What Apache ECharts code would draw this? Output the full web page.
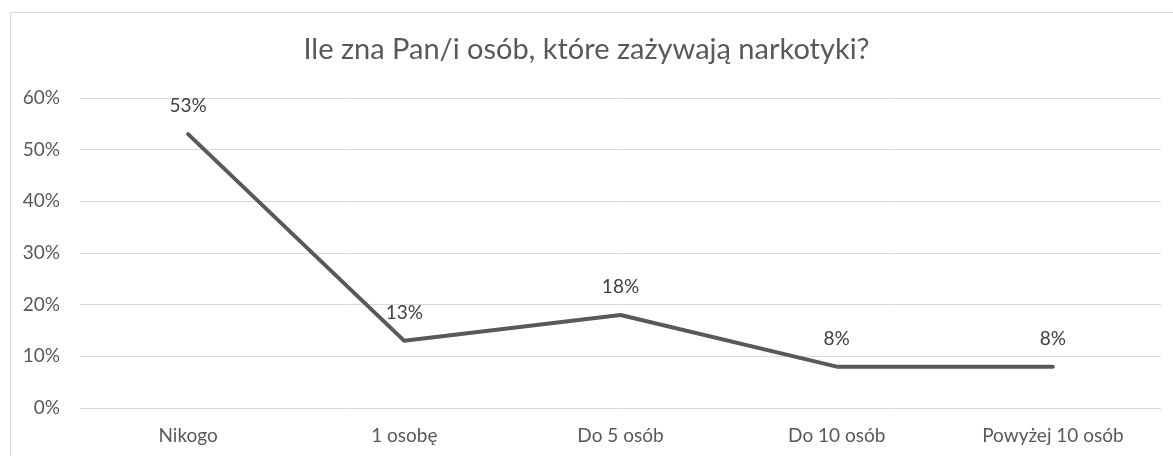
<!DOCTYPE html>
<html><head><meta charset="utf-8">
<script src="https://cdn.jsdelivr.net/npm/echarts@6/dist/echarts.min.js"></script>
<style>html,body{margin:0;padding:0;background:#fff}#c{width:1173px;height:456px}</style>
</head><body><div id="c"></div>
<script>
const categories = ['Nikogo', '1 osobę', 'Do 5 osób', 'Do 10 osób', 'Powyżej 10 osób'];
const values = [53, 13, 18, 8, 8];
const yTicks = [0, 10, 20, 30, 40, 50, 60];

const chart = echarts.init(document.getElementById('c'));
chart.setOption({
  animation: false,
  backgroundColor: '#fff',
  textStyle: { fontFamily: 'Lato, "Open Sans", sans-serif' },
  graphic: [{
    type: 'rect', left: 8, top: 10,
    shape: { width: 1180, height: 460 },
    style: { fill: 'none', stroke: '#d9d9d9', lineWidth: 1 }, silent: true
  }],
  title: {
    text: 'Ile zna Pan/i osób, które zażywają narkotyki?',
    left: 'center', top: 30,
    textStyle: { fontSize: 29, fontWeight: 'normal', color: '#595959', fontFamily: 'Lato, sans-serif' }
  },
  grid: { left: 80, right: 12, top: 98, bottom: 48, containLabel: false },
  xAxis: {
    type: 'category', data: categories, boundaryGap: true,
    axisLine: { show: false }, axisTick: { show: false },
    axisLabel: { color: '#595959', fontSize: 19, margin: 18 }
  },
  yAxis: {
    type: 'value', min: yTicks[0], max: yTicks[yTicks.length - 1], interval: 10,
    axisLine: { show: false }, axisTick: { show: false },
    axisLabel: { color: '#595959', fontSize: 19, margin: 20, formatter: v => v + '%' },
    splitLine: { lineStyle: { color: '#d9d9d9', width: 1 } }
  },
  series: [{
    type: 'line', data: values, symbol: 'circle', symbolSize: 1, showSymbol: true,
    itemStyle: { color: '#595959', opacity: 0 },
    lineStyle: { color: '#595959', width: 4, cap: 'round', join: 'round' },
    label: { show: true, position: 'top', distance: 18, color: '#404040', fontSize: 19, opacity: 1, formatter: p => p.value + '%' }
  }]
});
</script></body></html>
